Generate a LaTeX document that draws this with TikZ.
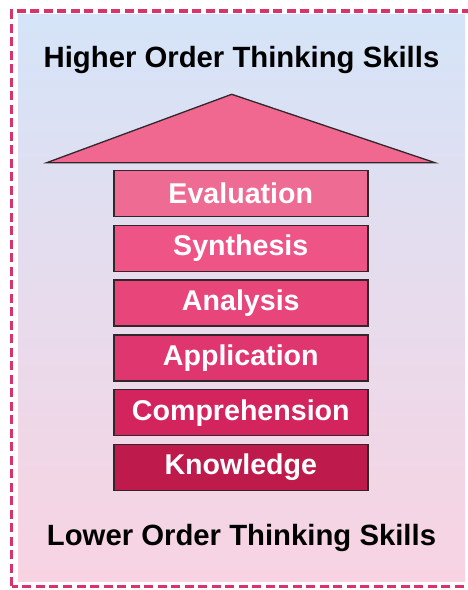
\documentclass[tikz,border=0pt]{standalone}
\usepackage{fontspec}
\setsansfont{Liberation Sans}
\usetikzlibrary{positioning}
\definecolor{frame}{HTML}{D8336D}
\definecolor{skytop}{HTML}{D5E4F8}
\definecolor{blushbottom}{HTML}{F8D3E2}
\definecolor{outline}{HTML}{33262B}
\definecolor{roof}{HTML}{F06890}
\definecolor{evalfill}{HTML}{EE6C93}
\definecolor{synthfill}{HTML}{EE5486}
\definecolor{analfill}{HTML}{E8457B}
\definecolor{applfill}{HTML}{DF366F}
\definecolor{compfill}{HTML}{D3245D}
\definecolor{knowfill}{HTML}{BE1A4C}
\tikzset{
  font=\sffamily\bfseries,
  levelbox/.style={
    rectangle,
    draw=outline,
    line width=1.5pt,
    minimum width=254pt,
    minimum height=46pt,
    inner sep=0pt,
    text=white,
    font=\sffamily\bfseries\fontsize{28.6}{28.6}\selectfont
  },
  heading/.style={
    anchor=base,
    text=black,
    font=\sffamily\bfseries\fontsize{29.3}{29.3}\selectfont
  },
  roofshape/.style={
    draw=outline,
    line width=1.3pt,
    fill=roof,
    line join=miter
  },
  dashframe/.style={
    draw=frame,
    line width=3.4pt,
    dash pattern=on 9pt off 4.5pt
  }
}

\begin{document}
\begin{tikzpicture}[x=1pt, y=1pt, node distance=7.3pt]
  \useasboundingbox (0,0) rectangle (467,590);
  \fill[top color=skytop, bottom color=blushbottom] (18,8) rectangle (465,575);
  \draw[dashframe] (11.5,3.5) rectangle (472,579);

  \node[heading] (higher) at (241.5,522) {Higher Order Thinking Skills};
  \node[heading] (lower) at (241.5,44) {Lower Order Thinking Skills};

  % the arrow head over the steps
  \coordinate (roofleft) at (46.7,427.3);
  \coordinate (rooftip) at (231.7,495.7);
  \coordinate (roofright) at (435,427.3);
  \draw[roofshape] (roofleft) -- (rooftip) -- (roofright) -- cycle;

  \node[levelbox, fill=knowfill] (knowledge) at (240.8,122.5) {Knowledge};
  \node[levelbox, fill=compfill, above=of knowledge] (comprehension) {Comprehension};
  \node[levelbox, fill=applfill, above=of comprehension] (application) {Application};
  \node[levelbox, fill=analfill, above=of application] (analysis) {Analysis};
  \node[levelbox, fill=synthfill, above=of analysis] (synthesis) {Synthesis};
  \node[levelbox, fill=evalfill, above=of synthesis] (evaluation) {Evaluation};
\end{tikzpicture}
\end{document}
